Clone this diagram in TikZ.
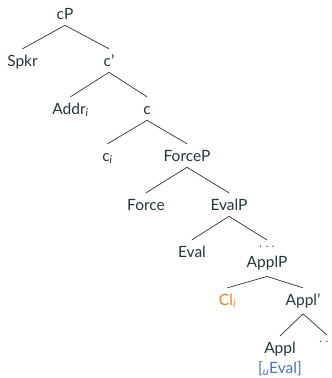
\documentclass[tikz,border=0pt]{standalone}
\usepackage{fontspec}
\setmainfont{Lato}
\definecolor{mDark}{HTML}{23373B}
\definecolor{mOrange}{HTML}{EB811B}
\definecolor{mBlue}{HTML}{4A72B5}
\begin{document}
\begin{tikzpicture}[x=1pt,y=-1pt]
		\tikzset{vertex/.style = {anchor=base, inner xsep=1pt, inner ysep=6pt, text height=11pt,
				text=mDark, font=\fontsize{15.5}{20}\selectfont}}
		\tikzset{multi/.style = {anchor=north, text height=, align=center}}
		\tikzset{edge/.style = {draw=mDark, line width=0.7pt}}
		
		\useasboundingbox (0,0) rectangle (332,378);
		
		\node[vertex]  (1) at (  65,  19) {cP};
		\node[vertex]  (2) at (22.5,  66) {Spkr};
		\node[vertex]  (3) at ( 109,  66) {c'};
		\node[vertex]  (4) at (70.5, 114) {Addr\textsubscript{\textit{i}}};
		\node[vertex]  (5) at ( 147, 114) {c};
		\node[vertex]  (6) at (107.5,161) {c\textsubscript{\textit{i}}};
		\node[vertex]  (7) at ( 187, 161) {ForceP};
		\node[vertex]  (8) at ( 146, 210) {Force};
		\node[vertex]  (9) at ( 229, 210) {EvalP};
		\node[vertex] (10) at ( 192, 257) {Eval};
		\node[vertex,multi] (11) at ( 267, 240) {$\ldots$\\ApplP};
		\node[vertex] (12) at (227.5,305) {\textcolor{mOrange}{Cl\textsubscript{\textit{i}}}};
		\node[vertex] (13) at ( 303, 305) {Appl'};
		\node[vertex,multi] (14) at ( 280, 336) {Appl\\\textcolor{mBlue}{[\textsubscript{\textit{u}}Eval]}};
		\node[vertex,multi] (15) at ( 327, 335) {$\ldots$};
		
		\draw[edge]  (1.south) to  (2.north);
		\draw[edge]  (1.south) to  (3.north);
		\draw[edge]  (3.south) to  (4.north);
		\draw[edge]  (3.south) to  (5.north);
		\draw[edge]  (5.south) to  (6.north);
		\draw[edge]  (5.south) to  (7.north);
		\draw[edge]  (7.south) to  (8.north);
		\draw[edge]  (7.south) to  (9.north);
		\draw[edge]  (9.south) to (10.north);
		\draw[edge]  (9.south) to (11.north);
		\draw[edge] (11.south) to (12.north);
		\draw[edge] (11.south) to (13.north);
		\draw[edge] (13.south) to (14.north);
		\draw[edge] (13.south) to (15.north);
\end{tikzpicture}
\end{document}
